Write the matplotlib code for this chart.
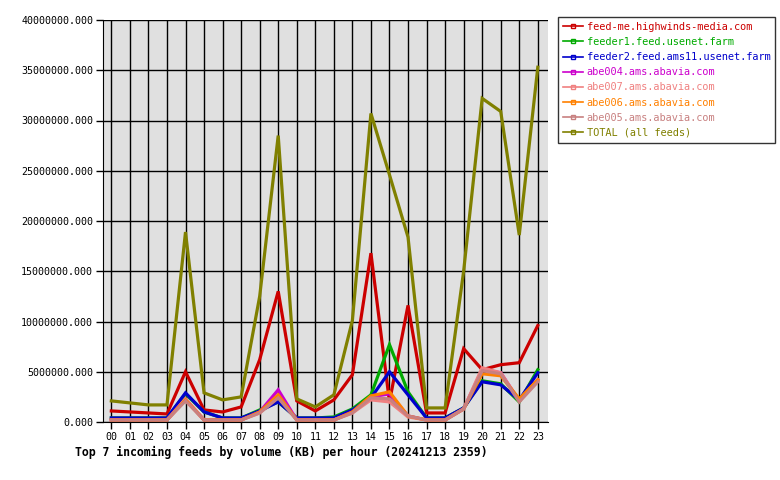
import numpy as np
import matplotlib
matplotlib.use("Agg")
import matplotlib.pyplot as plt
from matplotlib.ticker import FormatStrFormatter

# hours and feed volumes (KB)
hours = ["%02d" % h for h in range(24)]

feed_me = [1.1, 1.0, 0.9, 0.8, 5.0, 1.2, 1.0, 1.5, 6.2, 13.0, 2.1, 1.1,
           2.2, 4.7, 16.8, 2.0, 11.6, 0.9, 0.9, 7.3, 5.2, 5.7, 5.9, 9.6]
feeder1 = [0.4, 0.4, 0.4, 0.4, 2.8, 1.0, 0.4, 0.4, 1.2, 2.0, 0.4, 0.4,
           0.5, 1.3, 2.7, 7.7, 3.0, 0.4, 0.4, 1.4, 4.1, 3.8, 2.0, 5.2]
feeder2 = [0.4, 0.4, 0.4, 0.4, 2.9, 1.0, 0.4, 0.4, 1.1, 2.0, 0.4, 0.4,
           0.4, 1.2, 2.4, 5.0, 2.7, 0.4, 0.4, 1.4, 4.0, 3.7, 2.2, 4.9]
abe004 = [0.2, 0.2, 0.2, 0.2, 2.3, 0.2, 0.2, 0.2, 1.0, 3.2, 0.2, 0.2,
          0.2, 1.0, 2.5, 2.8, 0.6, 0.2, 0.2, 1.3, 5.2, 4.9, 2.1, 4.2]
abe007 = [0.2, 0.2, 0.2, 0.2, 2.3, 0.2, 0.2, 0.2, 0.9, 2.5, 0.2, 0.2,
          0.2, 0.9, 2.2, 2.0, 0.5, 0.2, 0.2, 1.3, 5.4, 4.9, 2.1, 4.2]
abe006 = [0.2, 0.2, 0.2, 0.2, 2.2, 0.2, 0.2, 0.2, 1.0, 2.7, 0.2, 0.2,
          0.2, 1.0, 2.6, 3.0, 0.6, 0.2, 0.2, 1.3, 4.8, 4.6, 2.3, 4.2]
abe005 = [0.2, 0.2, 0.2, 0.2, 2.1, 0.2, 0.2, 0.2, 0.9, 2.4, 0.2, 0.2,
          0.2, 0.9, 2.4, 2.3, 0.6, 0.2, 0.2, 1.3, 5.1, 4.8, 2.0, 4.0]
total = [2.1, 1.9, 1.7, 1.7, 18.9, 2.9, 2.2, 2.5, 12.5, 28.5, 2.3, 1.5,
         2.7, 10.1, 30.7, 24.6, 18.4, 1.4, 1.4, 15.0, 32.2, 30.9, 18.6, 35.3]

names = ["feed-me.highwinds-media.com", "feeder1.feed.usenet.farm",
         "feeder2.feed.ams11.usenet.farm", "abe004.ams.abavia.com",
         "abe007.ams.abavia.com", "abe006.ams.abavia.com",
         "abe005.ams.abavia.com", "TOTAL (all feeds)"]
series = [feed_me, feeder1, feeder2, abe004, abe007, abe006, abe005, total]
colors = ["#CC0000", "#00AA00", "#0000CC", "#CC00CC",
          "#F08080", "#FF8000", "#C88080", "#808000"]

mono = "DejaVu Sans Mono"

fig = plt.figure(figsize=(7.8, 4.8), dpi=100)
ax = fig.add_axes([103 / 780, 58 / 480, 445 / 780, 402 / 480])
ax.set_facecolor("#E0E0E0")

x = np.arange(len(hours))
for vals, name, c in zip(series, names, colors):
    ax.plot(x, np.array(vals) * 1e6, color=c, lw=2.3, label=name,
            solid_joinstyle="miter")

ax.set_xlim(-0.45, 23.55)
ax.set_ylim(0, 40e6)
ax.set_xticks(x)
ax.set_xticklabels(hours, fontfamily=mono, fontsize=7.2)
ax.set_yticks(np.arange(0, 40e6 + 1, 5e6))
ax.yaxis.set_major_formatter(FormatStrFormatter("%.3f"))
for lbl in ax.get_yticklabels():
    lbl.set_fontfamily(mono)
    lbl.set_fontsize(7.2)
ax.tick_params(length=5, width=1, color="black", pad=2)
ax.grid(True, color="black", lw=1)
ax.set_axisbelow(True)
for s in ax.spines.values():
    s.set_visible(False)
ax.spines["left"].set_visible(True)
ax.spines["bottom"].set_visible(True)

leg = ax.legend(loc="upper left", bbox_to_anchor=(1.022, 1.008),
                prop={"family": mono, "size": 7.4}, frameon=True,
                fancybox=False, edgecolor="black", handlelength=2.0,
                handletextpad=0.3, borderpad=0.5, labelspacing=0.5,
                borderaxespad=0)
leg.get_frame().set_linewidth(1)
for h, t, c in zip(leg.get_lines(), leg.get_texts(), colors):
    h.set_linewidth(1.2)
    h.set_marker("s")
    h.set_markersize(3)
    h.set_markerfacecolor("none")
    h.set_markevery([1])
    t.set_color(c)

fig.text(75 / 780, 1 - 452 / 480, "Top 7 incoming feeds by volume (KB) per hour (20241213 2359)",
         fontfamily=mono, fontsize=8.3, fontweight="bold", va="center")

fig.savefig("out.png", dpi=100)
